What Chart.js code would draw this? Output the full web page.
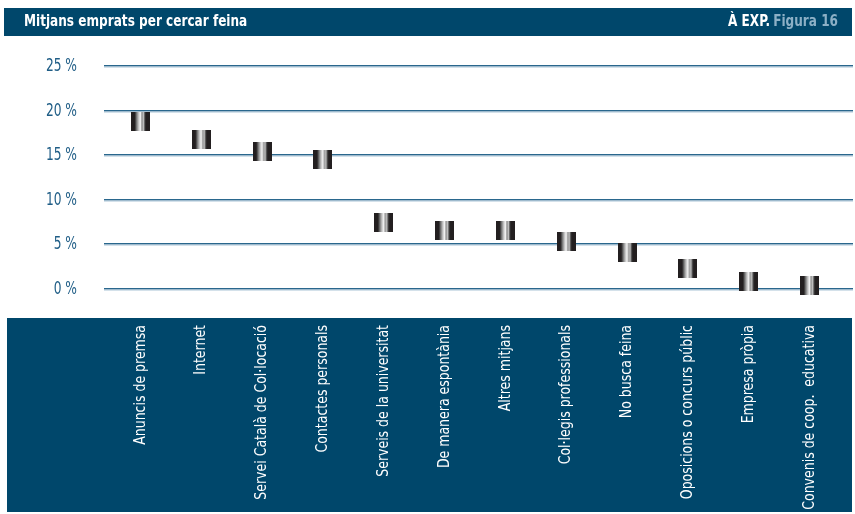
<!DOCTYPE html>
<html>
<head>
<meta charset="utf-8">
<script src="https://cdn.jsdelivr.net/npm/chart.js@4"></script>
<style>
  html, body { margin: 0; padding: 0; background: #fff; }
  #wrap { position: relative; width: 855px; height: 514px; }
</style>
</head>
<body>
<div id="wrap"><canvas id="chart" width="855" height="514"></canvas></div>
<script>
// chart data
const categories = [
    'Anuncis de premsa', 'Internet', 'Servei Català de Col·locació', 'Contactes personals',
    'Serveis de la universitat', 'De manera espontània', 'Altres mitjans', 'Col·legis professionals',
    'No busca feina', 'Oposicions o concurs públic', 'Empresa pròpia', 'Convenis de coop.  educativa'
];
const values = [18.8, 16.8, 15.4, 14.5, 7.4, 6.6, 6.6, 5.3, 4.1, 2.3, 0.85, 0.4];
const yTicks = [0, 5, 10, 15, 20, 25];

// no narrow font installed, so text is squeezed horizontally by hand
const FONT = "'DejaVu Sans Condensed', 'DejaVu Sans', sans-serif";
const NAVY = '#00476b';

function makeMarker() {
    const c = document.createElement('canvas');
    c.width = 19; c.height = 19;
    const g = c.getContext('2d');
    const grad = g.createLinearGradient(0, 0, 19, 0);
    grad.addColorStop(0, '#231f20');
    grad.addColorStop(0.2, '#231f20');
    grad.addColorStop(0.28, '#6b6b6b');
    grad.addColorStop(0.42, '#d0d0d0');
    grad.addColorStop(0.5, '#f4f4f4');
    grad.addColorStop(0.58, '#8a8a8a');
    grad.addColorStop(0.66, '#c4c4c4');
    grad.addColorStop(0.74, '#3a3a3a');
    grad.addColorStop(0.8, '#231f20');
    grad.addColorStop(1, '#231f20');
    g.fillStyle = grad;
    g.fillRect(0, 0, 19, 19);
    return c;
}

function squeezed(ctx, text, x, y, sx, align, rot) {
    ctx.save();
    ctx.translate(x, y);
    if (rot) ctx.rotate(rot);
    ctx.scale(sx, 1);
    ctx.textAlign = align;
    ctx.fillText(text, 0, 0);
    ctx.restore();
}

// header bar, bottom band, wide gridlines
const backdrop = {
    id: 'backdrop',
    beforeDraw(chart) {
        const ctx = chart.ctx;
        ctx.save();
        ctx.fillStyle = NAVY;
        ctx.fillRect(4, 8, 848, 28);
        ctx.fillRect(7, 318, 845, 194);

        ctx.font = 'bold 16px ' + FONT;
        ctx.textBaseline = 'middle';
        ctx.fillStyle = '#ffffff';
        squeezed(ctx, 'Mitjans emprats per cercar feina', 24, 22, 0.84, 'left');
        ctx.fillStyle = '#8cb0c6';
        squeezed(ctx, 'Figura 16', 838, 22, 0.84, 'right');
        const w = ctx.measureText('Figura 16').width * 0.84;
        ctx.fillStyle = '#ffffff';
        squeezed(ctx, 'À EXP.', 838 - w - 3, 22, 0.84, 'right');

        const y = chart.scales.y;
        y.ticks.forEach(t => {
            const py = Math.round(y.getPixelForValue(t.value));
            ctx.fillStyle = '#2a678d';
            ctx.fillRect(104, py - 1, 749, 1.5);
            ctx.fillStyle = '#a9c4d6';
            ctx.fillRect(104, py + 0.5, 749, 1);
        });
        ctx.restore();
    },
    afterDraw(chart) {
        const ctx = chart.ctx;
        const x = chart.scales.x, y = chart.scales.y;
        ctx.save();
        ctx.textBaseline = 'middle';
        ctx.font = '17px ' + FONT;
        ctx.fillStyle = '#1f5d86';
        y.ticks.forEach(t => {
            squeezed(ctx, t.value + ' %', 77, y.getPixelForValue(t.value) + 0.5, 0.8, 'right');
        });
        ctx.font = '16px ' + FONT;
        ctx.fillStyle = '#ffffff';
        categories.forEach((c, i) => {
            squeezed(ctx, c, x.getPixelForTick(i), 325, 0.87, 'right', -Math.PI / 2);
        });
        ctx.restore();
    }
};

new Chart(document.getElementById('chart'), {
    type: 'line',
    data: {
        labels: categories,
        datasets: [{
            data: values,
            showLine: false,
            clip: false,
            pointStyle: makeMarker(),
            pointRadius: 10,
            pointHoverRadius: 10
        }]
    },
    plugins: [backdrop],
    options: {
        responsive: false,
        animation: false,
        events: [],
        layout: { padding: { left: 0, right: 15, top: 66, bottom: 0 } },
        plugins: { legend: { display: false }, tooltip: { enabled: false } },
        scales: {
            x: {
                offset: true,
                grid: { display: false },
                border: { display: false },
                ticks: { display: false },
                afterFit(scale) { scale.height = 225; }
            },
            y: {
                min: 0,
                max: 25,
                afterBuildTicks(scale) { scale.ticks = yTicks.map(v => ({ value: v })); },
                grid: { display: false },
                border: { display: false },
                ticks: { display: false },
                afterFit(scale) { scale.width = 110; }
            }
        }
    }
});
</script>
</body>
</html>
